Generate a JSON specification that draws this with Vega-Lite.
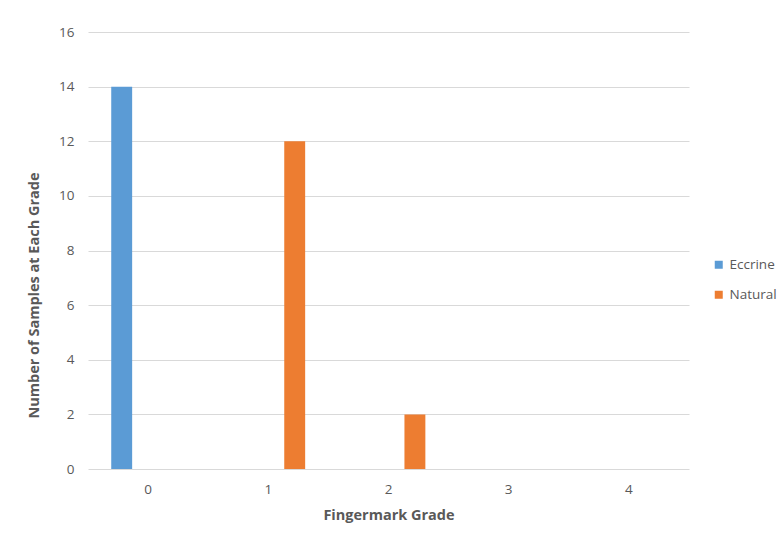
{
  "$schema": "https://vega.github.io/schema/vega-lite/v6.json",
  "width": 601,
  "height": 437,
  "autosize": "none",
  "padding": {"left": 88, "top": 32, "right": 93, "bottom": 72},
  "background": "white",
  "data": {
    "values": [
      {"grade": "0", "type": "Eccrine", "count": 14},
      {"grade": "0", "type": "Natural", "count": 0},
      {"grade": "1", "type": "Eccrine", "count": 0},
      {"grade": "1", "type": "Natural", "count": 12},
      {"grade": "2", "type": "Eccrine", "count": 0},
      {"grade": "2", "type": "Natural", "count": 2},
      {"grade": "3", "type": "Eccrine", "count": 0},
      {"grade": "3", "type": "Natural", "count": 0},
      {"grade": "4", "type": "Eccrine", "count": 0},
      {"grade": "4", "type": "Natural", "count": 0}
    ]
  },
  "mark": {"type": "bar"},
  "encoding": {
    "x": {
      "field": "grade",
      "type": "nominal",
      "scale": {"paddingInner": 0, "paddingOuter": 0},
      "axis": {
        "title": "Fingermark Grade",
        "labelAngle": 0,
        "ticks": false,
        "domain": false,
        "labelPadding": 13,
        "titlePadding": 13
      }
    },
    "xOffset": {
      "field": "type",
      "type": "nominal",
      "scale": {"paddingInner": 0.604, "paddingOuter": 0.44}
    },
    "y": {
      "field": "count",
      "type": "quantitative",
      "scale": {"domain": [0, 16], "nice": false},
      "axis": {
        "title": "Number of Samples at Each Grade",
        "values": [0, 2, 4, 6, 8, 10, 12, 14, 16],
        "ticks": false,
        "domain": false,
        "labelPadding": 14,
        "titleX": -54,
        "titleY": 263,
        "titleAlign": "center",
        "titleBaseline": "middle"
      }
    },
    "color": {
      "field": "type",
      "type": "nominal",
      "scale": {"domain": ["Eccrine", "Natural"], "range": ["#5B9BD5", "#ED7D31"]},
      "legend": {
        "title": null,
        "orient": "none",
        "legendX": 624,
        "legendY": 226,
        "symbolType": "square",
        "symbolSize": 64,
        "symbolStrokeWidth": 0,
        "rowPadding": 15,
        "labelOffset": 4
      }
    }
  },
  "config": {
    "font": "Open Sans",
    "view": {"stroke": null},
    "axis": {
      "gridColor": "#D9D9D9",
      "gridWidth": 1,
      "labelColor": "#595959",
      "labelFontSize": 13.5,
      "labelFont": "Open Sans",
      "titleColor": "#595959",
      "titleFontSize": 14.5,
      "titleFont": "Open Sans",
      "titleFontWeight": "bold"
    },
    "axisX": {"grid": false},
    "axisY": {"grid": true},
    "legend": {
      "labelColor": "#595959",
      "labelFontSize": 13.5,
      "labelFont": "Open Sans"
    }
  }
}
